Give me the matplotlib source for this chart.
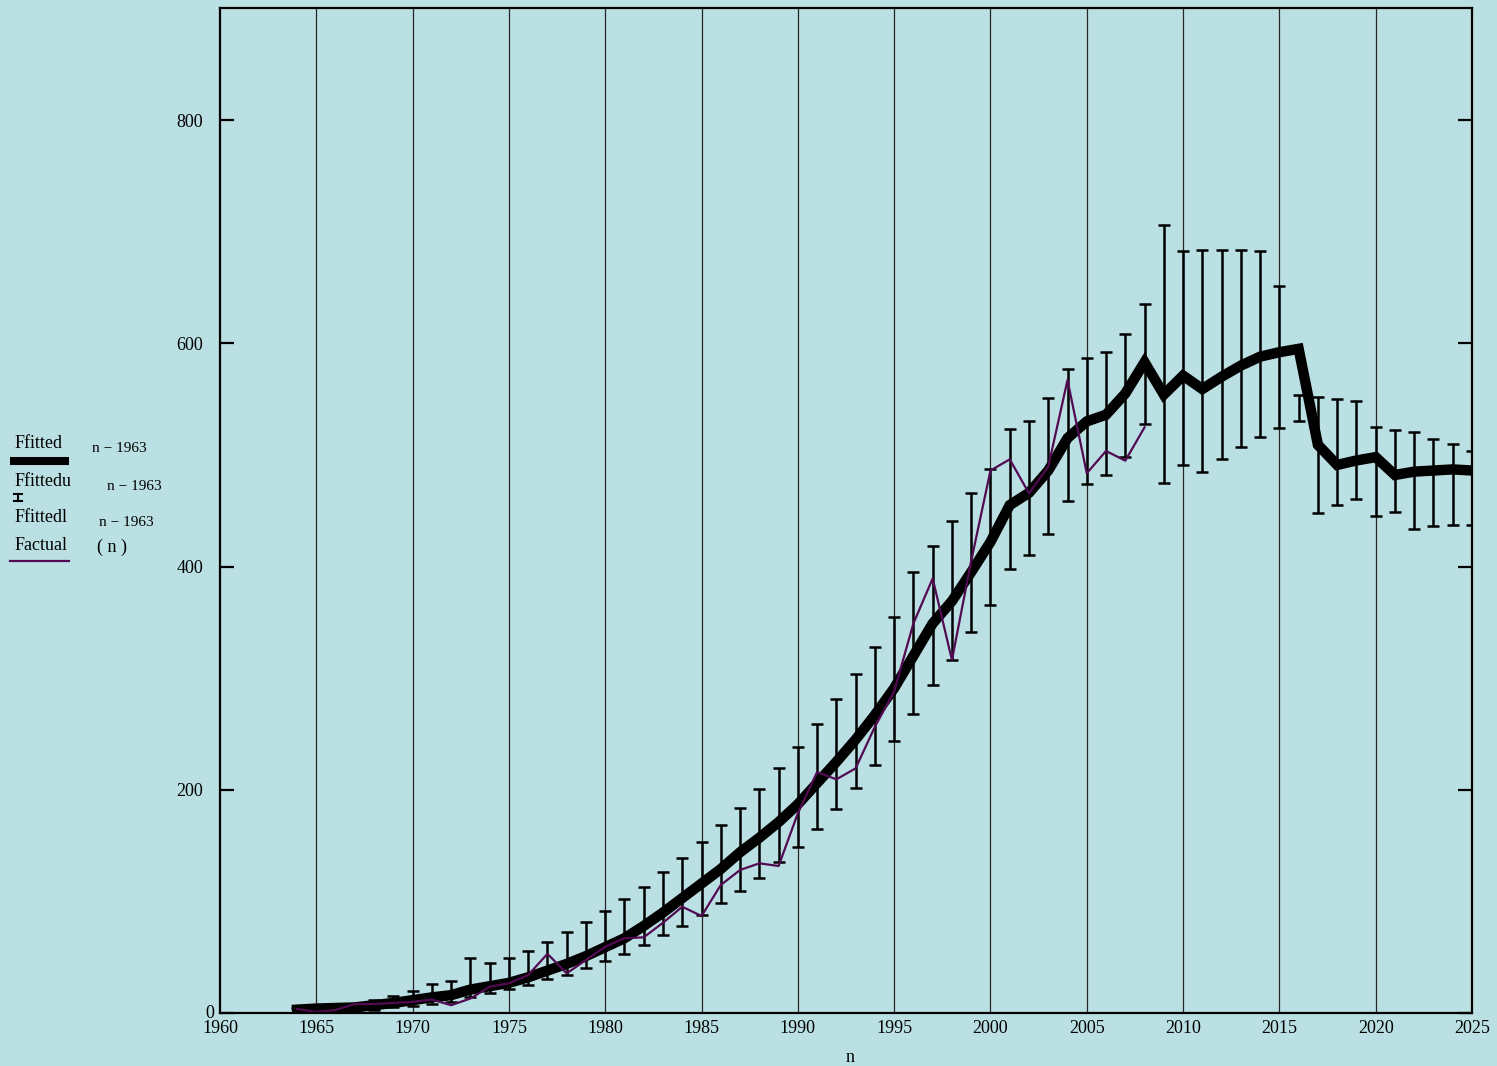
import numpy as np
import matplotlib
matplotlib.use("Agg")
import matplotlib.pyplot as plt
from matplotlib.lines import Line2D

years = list(range(1964, 2026))

fitted = [3, 4, 4.5, 5, 7, 9, 11.5, 14, 16, 21, 24, 27, 32, 38, 44, 51, 59, 67, 78, 90,
          103, 116, 129, 144, 157, 171, 187, 206, 225, 245, 267, 291, 320, 349, 369, 395,
          422, 455, 466, 486, 515, 530, 536, 555, 583, 554, 571, 559, 570, 580, 588, 592,
          595, 509, 491, 495, 498, 482, 485, 486, 487, 486]

fitted_upper = [4.2, 5, 6, 8.5, 11.6, 15, 20, 26.3, 28.8, 49, 44.5, 49, 55.6, 63.3, 72.3,
                81.2, 91.4, 102, 113.2, 126.3, 138.6, 153.2, 168.7, 183.4, 200.4, 219.8,
                238.6, 258.9, 281, 304, 328.2, 355, 394.7, 418.8, 440.5, 466, 487, 522.9,
                530.6, 550.7, 576.6, 586.5, 591.9, 608.3, 635, 706, 682.6, 683.5, 683.5,
                683.5, 682.4, 651.6, 553.6, 552, 550.4, 548, 525.3, 522.3, 520.5, 514.5,
                509.4, 503.8]

fitted_lower = [0, 1, 1.5, 2, 3, 5, 6, 8, 10, 14.6, 17.6, 21.2, 24.8, 30.5, 34, 40.3, 46.9,
                53.2, 60.9, 69.6, 78, 87.8, 98.3, 109.3, 120.9, 135, 149, 164.6, 182.5,
                201.6, 222.2, 243.7, 267.9, 293.7, 316.5, 341.2, 365.5, 397.5, 410, 429.4,
                458.7, 474.2, 481.7, 498.4, 528, 475, 490.6, 484.4, 496.3, 507, 516.3,
                523.8, 530.6, 448.2, 454.8, 460.2, 445.2, 448.5, 433.3, 436.3, 437.4, 437.4]

actual_years = list(range(1964, 2009))
actual = [3.6, 1, 2.7, 8, 8, 9, 10, 12, 7, 13, 23.6, 26.6, 34, 53, 35.5, 47.5, 59.4, 67,
          67.8, 80.9, 95.2, 86.9, 114.7, 128.1, 134.1, 131.7, 178.9, 215.9, 209.3, 219.2,
          256.5, 288, 349, 389.3, 316.2, 405, 486, 496, 465.6, 489.4, 567, 483.5, 503.5,
          494.8, 524.7]

x_ticks = list(range(1960, 2030, 5))
y_ticks = [0, 200, 400, 600, 800]

BG = "#bbe0e3"
PURPLE = "#520a52"

plt.rcParams['font.family'] = ['Liberation Serif', 'DejaVu Serif']

fig = plt.figure(figsize=(14.97, 10.66), dpi=100, facecolor=BG)
W, H = 1497, 1066
ax_left, ax_right, ax_top, ax_bot = 220, 1472, 8.4, 1013
ax = fig.add_axes([ax_left / W, 1 - ax_bot / H, (ax_right - ax_left) / W, (ax_bot - ax_top) / H])
ax.set_facecolor(BG)
ax.set_xlim(1960, 2025)
ax.set_ylim(0, 900)

# vertical grid lines
for xv in x_ticks[1:-1]:
    ax.axvline(xv, color="#262626", lw=0.9, zorder=1)

# error bars (drawn between the upper and lower traces)
up = np.array(fitted_upper)
lo = np.array(fitted_lower)
mid = (up + lo) / 2.0
half = (up - lo) / 2.0
ax.errorbar(years, mid, yerr=half, fmt='none', ecolor='black', elinewidth=1.8,
            capsize=4.5, capthick=1.8, zorder=3)

# fitted thick line
ax.plot(years, fitted, color='black', lw=7.5, solid_joinstyle='miter', zorder=4)

# actual line
ax.plot(actual_years, actual, color=PURPLE, lw=1.6, zorder=5)

for s in ax.spines.values():
    s.set_linewidth(1.6)
    s.set_color('black')
    s.set_zorder(6)

ax.set_xticks(x_ticks)
ax.set_xticklabels([str(v) for v in x_ticks], fontsize=13)
ax.tick_params(axis='x', length=0, pad=5)
ax.set_yticks(y_ticks)
ax.set_yticklabels(['' if v == 0 else str(v) for v in y_ticks], fontsize=13)
ax.tick_params(axis='y', direction='in', length=10, width=1.6, left=True, right=True,
               pad=12)
ax.text(-0.0045, 0.0, "0", transform=ax.transAxes, fontsize=13, ha='right', va='center')

fig.text(850 / W, 1 - 1057 / H, "n", fontsize=13, ha='center', va='center')

# legend-like labels on the left
def fx(px):
    return px / W

def fy(py):
    return 1 - py / H

fig.text(fx(15), fy(443), "Ffitted", fontsize=13, ha='left', va='center')
fig.text(fx(92), fy(449), "n \u2212 1963", fontsize=11, ha='left', va='center')
fig.add_artist(Line2D([fx(10), fx(69)], [fy(461), fy(461)], color='black', lw=5.8,
                      solid_capstyle='butt'))

fig.text(fx(15), fy(482), "Ffittedu", fontsize=13, ha='left', va='center')
fig.text(fx(107), fy(487), "n \u2212 1963", fontsize=11, ha='left', va='center')
# tiny error-bar icon
fig.add_artist(Line2D([fx(18), fx(18)], [fy(494), fy(501)], color='black', lw=1.5))
fig.add_artist(Line2D([fx(14), fx(22)], [fy(494), fy(494)], color='black', lw=1.5))
fig.add_artist(Line2D([fx(14), fx(22)], [fy(501), fy(501)], color='black', lw=1.5))

fig.text(fx(15), fy(518), "Ffittedl", fontsize=13, ha='left', va='center')
fig.text(fx(99), fy(523), "n \u2212 1963", fontsize=11, ha='left', va='center')

fig.text(fx(15), fy(546), "Factual", fontsize=13, ha='left', va='center')
fig.text(fx(97), fy(547), "( n )", fontsize=13, ha='left', va='center')
fig.add_artist(Line2D([fx(10), fx(69)], [fy(561), fy(561)], color=PURPLE, lw=1.6))

fig.savefig("out.png", dpi=100, facecolor=BG)
